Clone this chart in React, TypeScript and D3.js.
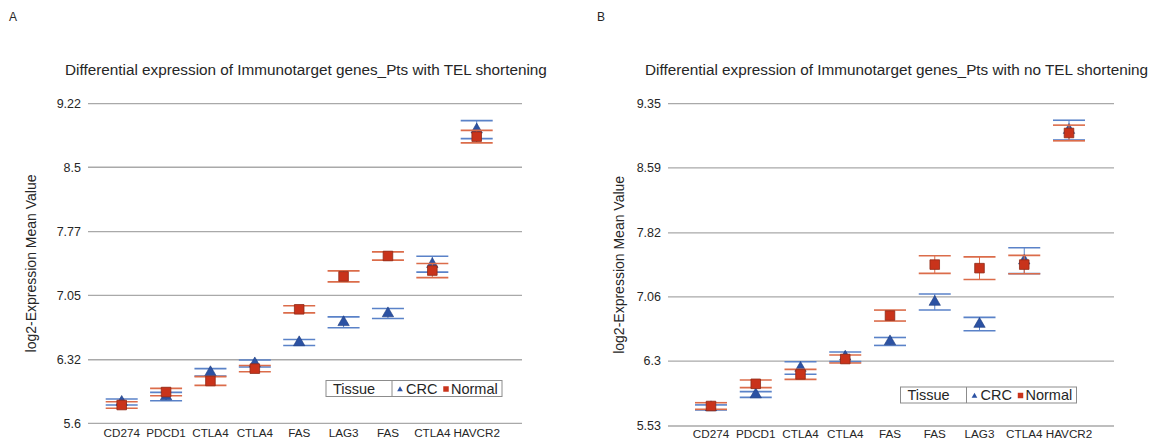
import React from "react";
import * as d3 from "d3";

// Panel A: patients with telomere shortening
const genesA = ["CD274", "PDCD1", "CTLA4", "CTLA4", "FAS", "LAG3", "FAS", "CTLA4", "HAVCR2"];
const crcMeanA = [5.841, 5.903, 6.177, 6.277, 6.516, 6.744, 6.844, 7.402, 8.926];
const crcErrA = [0.034, 0.047, 0.042, 0.04, 0.034, 0.062, 0.057, 0.09, 0.102];
const normalMeanA = [5.807, 5.954, 6.079, 6.219, 6.891, 7.264, 7.495, 7.33, 8.847];
const normalErrA = [0.037, 0.042, 0.05, 0.035, 0.04, 0.062, 0.047, 0.08, 0.071];
const ticksA = [5.6, 6.32, 7.05, 7.77, 8.5, 9.22];

// Panel B: patients without telomere shortening
const genesB = ["CD274", "PDCD1", "CTLA4", "CTLA4", "FAS", "FAS", "LAG3", "CTLA4", "HAVCR2"];
const crcMeanB = [5.75, 5.903, 6.217, 6.35, 6.532, 6.999, 6.738, 7.489, 9.037];
const crcErrB = [0.03, 0.034, 0.074, 0.057, 0.047, 0.095, 0.079, 0.153, 0.117];
const normalMeanB = [5.767, 6.03, 6.142, 6.324, 6.839, 7.443, 7.401, 7.443, 9.003];
const normalErrB = [0.039, 0.045, 0.059, 0.047, 0.065, 0.104, 0.134, 0.109, 0.093];
const ticksB = [5.53, 6.3, 7.06, 7.82, 8.59, 9.35];

const FONT = '"Liberation Sans", Arial, Helvetica, sans-serif';
const GRID = "#a9a9a9";
const TEXT = "#262626";
const CRC_BAR = "#5a82c8";
const CRC_FILL = "#2c52a3";
const CRC_EDGE = "#1d3b7d";
const NORMAL_BAR = "#db6c4a";
const NORMAL_FILL = "#c9331b";
const NORMAL_EDGE = "#8f2a17";

type PanelProps = {
  letter: string;
  letterX: number;
  title: string;
  titleX: number;
  genes: string[];
  crcMean: number[];
  crcErr: number[];
  normalMean: number[];
  normalErr: number[];
  ticks: number[];
  left: number;
  right: number;
  top: number;
  bottom: number;
  firstX: number;
  lastX: number;
  labelX: number;
  catLabelY: number;
  legendX: number;
  legendY: number;
};

function ErrorBars({ x, y, mean, err, color }: any) {
  const cap = 32;
  return (
    <g>
      {mean.map((m: number, i: number) => {
        const cx = x(i);
        const y1 = y(m + err[i]);
        const y2 = y(m - err[i]);
        return (
          <g key={i}>
            <line x1={cx} x2={cx} y1={y1} y2={y2} stroke={color} strokeWidth={1} />
            <line x1={cx - cap / 2} x2={cx + cap / 2} y1={y1} y2={y1} stroke={color} strokeWidth={1.6} />
            <line x1={cx - cap / 2} x2={cx + cap / 2} y1={y2} y2={y2} stroke={color} strokeWidth={1.6} />
          </g>
        );
      })}
    </g>
  );
}

function Panel(p: PanelProps) {
  const y = d3
    .scaleLinear()
    .domain([p.ticks[0], p.ticks[p.ticks.length - 1]])
    .range([p.bottom, p.top]);
  const x = d3
    .scalePoint<number>()
    .domain(d3.range(p.genes.length))
    .range([p.firstX, p.lastX]);
  const tri = d3.symbol(d3.symbolTriangle, 56)() as string;
  const sq = d3.symbol(d3.symbolSquare, 92)() as string;
  const triSmall = d3.symbol(d3.symbolTriangle, 14)() as string;
  const sqSmall = d3.symbol(d3.symbolSquare, 30)() as string;
  const midY = (p.top + p.bottom) / 2;

  return (
    <g fontFamily={FONT}>
      <text x={p.letterX} y={21} fontSize={12} fill={TEXT}>
        {p.letter}
      </text>
      <text x={p.titleX} y={75} fontSize={15.3} fill={TEXT}>
        {p.title}
      </text>

      {p.ticks.map((t) => (
        <g key={t}>
          <line x1={p.left} x2={p.right} y1={y(t)} y2={y(t)} stroke={GRID} strokeWidth={1.3} />
          <text
            x={p.left - 7}
            y={y(t)}
            dy="0.35em"
            textAnchor="end"
            fontSize={12.5}
            fill={TEXT}
          >
            {String(t)}
          </text>
        </g>
      ))}

      <text
        transform={`translate(${p.labelX},${midY}) rotate(-90)`}
        textAnchor="middle"
        dy="0.35em"
        fontSize={14}
        fill={TEXT}
      >
        log2-Expression Mean Value
      </text>

      {p.genes.map((g, i) => (
        <text key={i} x={x(i)} y={p.catLabelY} textAnchor="middle" fontSize={11.7} fill={TEXT}>
          {g}
        </text>
      ))}

      <ErrorBars x={x} y={y} mean={p.crcMean} err={p.crcErr} color={CRC_BAR} />
      {p.crcMean.map((m, i) => (
        <path
          key={i}
          d={tri}
          transform={`translate(${x(i)},${y(m)})`}
          fill={CRC_FILL}
          stroke={CRC_EDGE}
          strokeWidth={0.6}
        />
      ))}
      <ErrorBars x={x} y={y} mean={p.normalMean} err={p.normalErr} color={NORMAL_BAR} />
      {p.normalMean.map((m, i) => (
        <path
          key={i}
          d={sq}
          transform={`translate(${x(i)},${y(m)})`}
          fill={NORMAL_FILL}
          stroke={NORMAL_EDGE}
          strokeWidth={0.8}
        />
      ))}

      <g transform={`translate(${p.legendX},${p.legendY})`}>
        <rect x={0} y={0} width={176} height={16} fill="#fff" stroke="#8c8c8c" strokeWidth={1} />
        <line x1={66} x2={66} y1={0} y2={16} stroke="#8c8c8c" strokeWidth={1} />
        <text x={7} y={13} fontSize={14.5} fill={TEXT}>
          Tissue
        </text>
        <path d={triSmall} transform="translate(74,9)" fill={CRC_FILL} />
        <text x={80} y={13} fontSize={14.5} fill={TEXT}>
          CRC
        </text>
        <path d={sqSmall} transform="translate(120,8.5)" fill={NORMAL_FILL} />
        <text x={125} y={13} fontSize={14.5} fill={TEXT}>
          Normal
        </text>
      </g>
    </g>
  );
}

export default function App() {
  return (
    <svg
      width={1156}
      height={441}
      style={{ position: "absolute", left: 0, top: 0, display: "block", background: "#fff" }}
    >
      <rect width={1156} height={441} fill="#fff" />
      <Panel
        letter="A"
        letterX={9}
        title="Differential expression of Immunotarget genes_Pts with TEL shortening"
        titleX={65}
        genes={genesA}
        crcMean={crcMeanA}
        crcErr={crcErrA}
        normalMean={normalMeanA}
        normalErr={normalErrA}
        ticks={ticksA}
        left={88}
        right={522}
        top={103.7}
        bottom={423.3}
        firstX={121.7}
        lastX={476.7}
        labelX={31}
        catLabelY={437}
        legendX={326}
        legendY={380.5}
      />
      <Panel
        letter="B"
        letterX={597}
        title="Differential expression of Immunotarget genes_Pts with no TEL shortening"
        titleX={645}
        genes={genesB}
        crcMean={crcMeanB}
        crcErr={crcErrB}
        normalMean={normalMeanB}
        normalErr={normalErrB}
        ticks={ticksB}
        left={668}
        right={1114}
        top={103.7}
        bottom={426}
        firstX={711}
        lastX={1069}
        labelX={619}
        catLabelY={437.5}
        legendX={900.5}
        legendY={387}
      />
    </svg>
  );
}
